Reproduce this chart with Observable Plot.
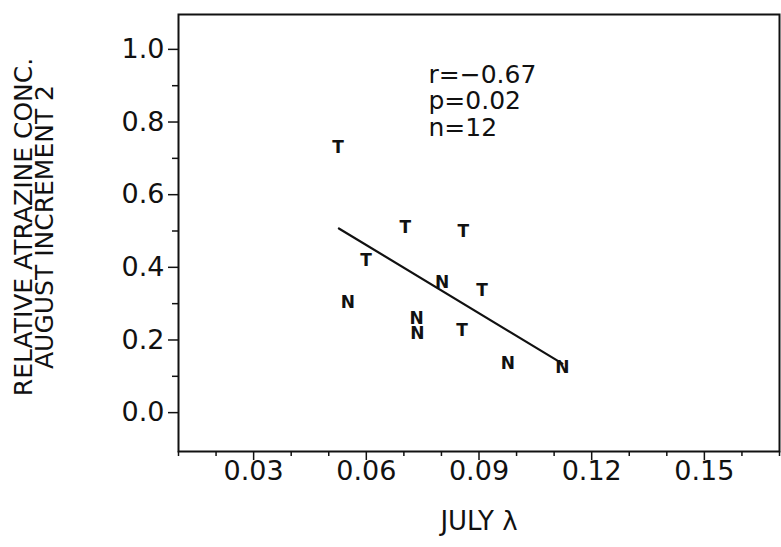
<!DOCTYPE html>
<html>
<head>
<meta charset="utf-8">
<script src="https://cdn.jsdelivr.net/npm/d3@7"></script>
<script src="https://cdn.jsdelivr.net/npm/@observablehq/plot@0.6"></script>
<style>
  html, body { margin: 0; padding: 0; background: #fff; }
  #chart svg { font-family: "DejaVu Sans", sans-serif; }
</style>
</head>
<body>
<div id="chart"></div>
<script>
// Sample type labels drawn at each point
const sampleType = ["T","T","T","T","N","T","N","N","N","T","N","N"];
// JULY lambda (x)
const julyLambda = [0.0525, 0.0704, 0.0858, 0.0599, 0.0802, 0.0908, 0.0551, 0.0734, 0.0736, 0.0855, 0.0977, 0.1122];
// Relative atrazine conc., August increment 2 (y)
const relAtrazine = [0.730, 0.510, 0.499, 0.419, 0.358, 0.336, 0.303, 0.259, 0.218, 0.226, 0.135, 0.124];
// Regression line end points
const fitLambda = [0.0527, 0.1122];
const fitAtrazine = [0.507, 0.135];
// Ticks
const xTickValues = [0.03, 0.06, 0.09, 0.12, 0.15];
const xMinorTickValues = [0.01, 0.02, 0.04, 0.05, 0.07, 0.08, 0.10, 0.11, 0.13, 0.14, 0.16, 0.17];
const yTickValues = [0.0, 0.2, 0.4, 0.6, 0.8, 1.0];
const yMinorTickValues = [0.1, 0.3, 0.5, 0.7, 0.9];
// Texts
const statLines = ["r=\u22120.67", "p=0.02", "n=12"];
const xTitle = "JULY \u03bb";
const yTitleLines = ["RELATIVE ATRAZINE CONC.", "AUGUST INCREMENT 2"];

const points = sampleType.map((t, i) => ({type: t, x: julyLambda[i], y: relAtrazine[i]}));
const fit = fitLambda.map((x, i) => ({x, y: fitAtrazine[i]}));

const ink = "#111";

const chart = Plot.plot({
  width: 781,
  height: 547,
  marginLeft: 178,
  marginRight: 2,
  marginTop: 14,
  marginBottom: 96,
  x: {domain: [0.01, 0.17]},
  y: {domain: [-0.107, 1.096]},
  style: {fontFamily: "DejaVu Sans, sans-serif", background: "#fff", color: ink, overflow: "visible"},
  marks: [
    Plot.frame({stroke: ink, strokeWidth: 2}),
    Plot.axisX(xMinorTickValues, {tickSize: 5, tickFormat: () => "", label: null, stroke: ink, strokeWidth: 1.5}),
    Plot.axisX(xTickValues, {tickSize: 9, tickPadding: 0, fontSize: 27, tickFormat: d3.format(".2f"), label: null, stroke: ink, strokeWidth: 1.5, fill: ink}),
    Plot.axisY(yMinorTickValues, {tickSize: 6, tickFormat: () => "", label: null, stroke: ink, strokeWidth: 1.5}),
    Plot.axisY(yTickValues, {tickSize: 10, tickPadding: 4, fontSize: 27, tickFormat: d3.format(".1f"), label: null, stroke: ink, strokeWidth: 1.5, fill: ink}),
    Plot.line(fit, {x: "x", y: "y", stroke: ink, strokeWidth: 2.2}),
    Plot.text(points, {x: "x", y: "y", text: "type", fontSize: 17, fontWeight: "bold", fill: ink}),
    Plot.text([statLines.join("\n")], {frameAnchor: "top-left", dx: 250, dy: 49, textAnchor: "start", lineAnchor: "top", fontSize: 25, lineHeight: 1.07, fill: ink}),
    Plot.text([xTitle], {frameAnchor: "bottom", dy: 78, textAnchor: "middle", fontSize: 26, fill: ink}),
    Plot.text([yTitleLines.join("\n")], {frameAnchor: "left", dx: -143, dy: -6, textAnchor: "middle", lineAnchor: "middle", rotate: -90, fontSize: 25, lineHeight: 0.84, fill: ink, ariaLabel: "ytitle"})
  ]
});

document.getElementById("chart").appendChild(chart);
d3.select(chart).selectAll('g[aria-label="ytitle"] text').style("letter-spacing", "1.4px");
</script>
</body>
</html>
